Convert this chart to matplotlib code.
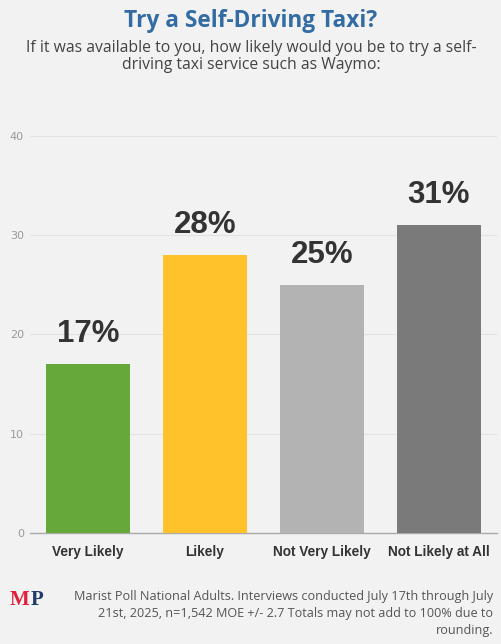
import matplotlib
matplotlib.use("Agg")
import matplotlib.pyplot as plt

categories = ["Very Likely", "Likely", "Not Very Likely", "Not Likely at All"]
values = [17, 28, 25, 31]
colors = ["#67a83a", "#ffc22a", "#b3b3b3", "#7a7a7a"]
yticks = [0, 10, 20, 30, 40]

bg = "#f2f2f2"
fig = plt.figure(figsize=(5.02, 6.44), dpi=100, facecolor=bg)
ax = fig.add_axes([0.0588, 0.1724, 0.932, 0.6165], facecolor=bg)

x = range(len(categories))
ax.bar(x, values, width=0.72, color=colors, zorder=3)
ax.set_xlim(-0.5, len(categories) - 0.5)
ax.set_ylim(0, 40)

# value labels
for i, v in enumerate(values):
    ax.annotate(f"{v}%", (i, v), xytext=(0, 11), textcoords="offset points",
                ha="center", va="bottom", fontsize=22.5, fontweight="bold",
                family="Liberation Sans", color="#333333")

ax.set_yticks(yticks)
ax.set_yticklabels([str(t) for t in yticks], fontsize=8, color="#999999",
                   family="DejaVu Sans")
ax.set_xticks(list(x))
ax.set_xticklabels(categories, fontsize=9.8, fontweight="bold",
                   family="Liberation Sans", color="#333333")
ax.tick_params(axis="y", length=0, pad=4)
ax.tick_params(axis="x", length=0, pad=9)
ax.grid(axis="y", color="#e2e2e2", linewidth=0.8, zorder=0)
for s in ["top", "right", "left"]:
    ax.spines[s].set_visible(False)
ax.spines["bottom"].set_color("#aaaaaa")
ax.spines["bottom"].set_linewidth(1)

# titles
fig.text(0.5, 0.968, "Try a Self-Driving Taxi?", ha="center", va="center",
         fontsize=16.3, fontweight="bold", color="#336ba3", family="Open Sans")
fig.text(0.5, 0.912,
         "If it was available to you, how likely would you be to try a self-\n"
         "driving taxi service such as Waymo:",
         ha="center", va="center", fontsize=11.3, color="#444444",
         family="Open Sans", linespacing=1.12)

# footer logo
fig.text(0.020, 0.069, "M", ha="left", va="center", fontsize=15,
         fontweight="bold", color="#e0203a", family="Liberation Serif")
fig.text(0.062, 0.069, "P", ha="left", va="center", fontsize=15,
         fontweight="bold", color="#1f3a6b", family="Liberation Serif")
fig.text(0.982, 0.048,
         "Marist Poll National Adults. Interviews conducted July 17th through July\n"
         "21st, 2025, n=1,542 MOE +/- 2.7 Totals may not add to 100% due to\n"
         "rounding.",
         ha="right", va="center", fontsize=9.1, color="#555555",
         family="Open Sans", linespacing=1.4)

fig.savefig("out.png", dpi=100, facecolor=bg)
